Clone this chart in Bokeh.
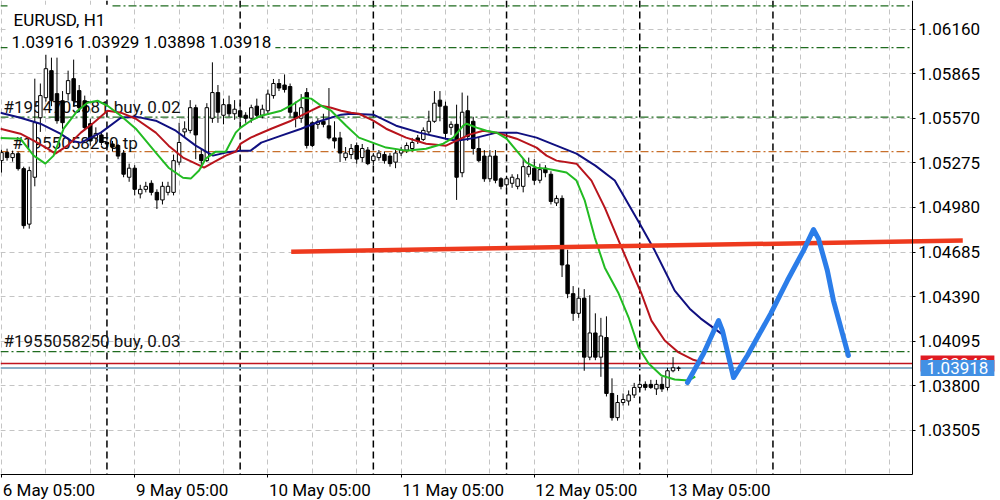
from bokeh.plotting import figure
from bokeh.models import (Range1d, FixedTicker, Span, Label, LinearAxis, Grid, BoxAnnotation,
                          NumeralTickFormatter, ColumnDataSource)
from bokeh.embed import file_html
from bokeh.resources import INLINE

# ---------------- data ----------------
symbol_title = "EURUSD, H1"
ohlc_text = "1.03916 1.03929 1.03898 1.03918"

time_tick_idx = [0, 24, 48, 72, 96, 120]
time_tick_labels = ["6 May 05:00", "9 May 05:00", "10 May 05:00",
                    "11 May 05:00", "12 May 05:00", "13 May 05:00"]
day_sep_idx = [19, 43, 67, 91, 115, 139]
grid_idx = [0, 8, 16, 24, 32, 40, 48, 56, 64, 72, 80, 88, 96, 104, 112,
            120, 128, 136, 144, 152, 160]
price_ticks = [1.03505, 1.03800, 1.04095, 1.04390, 1.04685, 1.04980,
               1.05275, 1.05570, 1.05865, 1.06160]

opens = [1.05290, 1.05343, 1.05310, 1.05336, 1.05237, 1.04870, 1.05180, 1.05574, 1.05706, 1.05885,
         1.05733, 1.05686, 1.05733, 1.05832, 1.05753, 1.05686, 1.05534, 1.05440, 1.05460, 1.05410,
         1.05400, 1.05390, 1.05340, 1.05180, 1.05240, 1.05070, 1.05100, 1.05140, 1.05080, 1.05030,
         1.05080, 1.05080, 1.05280, 1.05480, 1.05490, 1.05640, 1.05330, 1.05290, 1.05570, 1.05740,
         1.05590, 1.05660, 1.05600, 1.05620, 1.05590, 1.05570, 1.05650, 1.05590, 1.05620, 1.05720,
         1.05800, 1.05790, 1.05780, 1.05610, 1.05570, 1.05740, 1.05540, 1.05530, 1.05550, 1.05520,
         1.05440, 1.05440, 1.05310, 1.05330, 1.05390, 1.05310, 1.05360, 1.05290, 1.05310, 1.05330,
         1.05320, 1.05280, 1.05340, 1.05360, 1.05370, 1.05440, 1.05430, 1.05480, 1.05550, 1.05690,
         1.05650, 1.05510, 1.05530, 1.05210, 1.05620, 1.05550, 1.05370, 1.05320, 1.05170, 1.05320,
         1.05170, 1.05130, 1.05140, 1.05120, 1.05120, 1.05200, 1.05240, 1.05160, 1.05240, 1.05200,
         1.05010, 1.05040, 1.04600, 1.04410, 1.04280, 1.04380, 1.03990, 1.04150, 1.03990, 1.04120,
         1.03750, 1.03590, 1.03690, 1.03700, 1.03740, 1.03790, 1.03810, 1.03810, 1.03780, 1.03810,
         1.03790, 1.03900, 1.03916]
highs = [1.05362, 1.05369, 1.05356, 1.05349, 1.05250, 1.05250, 1.05832, 1.05800, 1.05997, 1.05971,
         1.05971, 1.05750, 1.05885, 1.05958, 1.05790, 1.05720, 1.05567, 1.05510, 1.05480, 1.05440,
         1.05420, 1.05400, 1.05360, 1.05270, 1.05260, 1.05130, 1.05150, 1.05160, 1.05100, 1.05150,
         1.05150, 1.05330, 1.05540, 1.05550, 1.05690, 1.05660, 1.05370, 1.05670, 1.05940, 1.05790,
         1.05700, 1.05720, 1.05690, 1.05670, 1.05610, 1.05660, 1.05700, 1.05660, 1.05760, 1.05830,
         1.05830, 1.05860, 1.05800, 1.05680, 1.05730, 1.05770, 1.05550, 1.05570, 1.05600, 1.05770,
         1.05550, 1.05480, 1.05380, 1.05400, 1.05410, 1.05400, 1.05380, 1.05340, 1.05360, 1.05350,
         1.05340, 1.05360, 1.05380, 1.05410, 1.05440, 1.05460, 1.05510, 1.05620, 1.05750, 1.05750,
         1.05680, 1.05550, 1.05660, 1.05740, 1.05720, 1.05580, 1.05440, 1.05360, 1.05360, 1.05360,
         1.05180, 1.05190, 1.05200, 1.05200, 1.05300, 1.05310, 1.05300, 1.05270, 1.05260, 1.05220,
         1.05060, 1.05060, 1.04700, 1.04460, 1.04450, 1.04440, 1.04400, 1.04280, 1.04250, 1.04260,
         1.03850, 1.03740, 1.03750, 1.03770, 1.03820, 1.03830, 1.03830, 1.03840, 1.03840, 1.03860,
         1.03920, 1.03990, 1.03929]
lows = [1.05211, 1.05290, 1.05283, 1.05224, 1.04840, 1.04840, 1.05120, 1.05480, 1.05680, 1.05650,
        1.05534, 1.05500, 1.05686, 1.05650, 1.05610, 1.05490, 1.05389, 1.05400, 1.05390, 1.05370,
        1.05350, 1.05300, 1.05180, 1.05150, 1.05060, 1.05040, 1.05080, 1.05060, 1.04970, 1.05000,
        1.05060, 1.05060, 1.05260, 1.05440, 1.05470, 1.05300, 1.05240, 1.05280, 1.05540, 1.05540,
        1.05530, 1.05580, 1.05560, 1.05550, 1.05540, 1.05540, 1.05570, 1.05570, 1.05600, 1.05700,
        1.05750, 1.05740, 1.05580, 1.05510, 1.05540, 1.05370, 1.05380, 1.05500, 1.05510, 1.05430,
        1.05370, 1.05280, 1.05290, 1.05300, 1.05270, 1.05280, 1.05260, 1.05260, 1.05290, 1.05270,
        1.05250, 1.05240, 1.05320, 1.05340, 1.05350, 1.05400, 1.05420, 1.05460, 1.05540, 1.05550,
        1.05430, 1.05460, 1.05030, 1.05180, 1.05420, 1.05330, 1.05280, 1.05150, 1.05150, 1.05140,
        1.05100, 1.05110, 1.05110, 1.05100, 1.05080, 1.05180, 1.05130, 1.05140, 1.05180, 1.05000,
        1.04990, 1.04520, 1.04380, 1.04230, 1.04250, 1.03900, 1.03970, 1.03970, 1.03860, 1.03730,
        1.03570, 1.03570, 1.03670, 1.03670, 1.03720, 1.03770, 1.03770, 1.03780, 1.03740, 1.03760,
        1.03770, 1.03890, 1.03898]
closes = [1.05343, 1.05310, 1.05336, 1.05237, 1.04860, 1.05224, 1.05541, 1.05720, 1.05898, 1.05686,
          1.05554, 1.05541, 1.05819, 1.05686, 1.05640, 1.05508, 1.05420, 1.05470, 1.05410, 1.05400,
          1.05380, 1.05320, 1.05200, 1.05240, 1.05100, 1.05100, 1.05120, 1.05080, 1.05030, 1.05120,
          1.05120, 1.05290, 1.05410, 1.05500, 1.05640, 1.05460, 1.05290, 1.05640, 1.05740, 1.05610,
          1.05660, 1.05600, 1.05630, 1.05580, 1.05570, 1.05640, 1.05590, 1.05630, 1.05730, 1.05800,
          1.05770, 1.05760, 1.05610, 1.05570, 1.05640, 1.05390, 1.05390, 1.05550, 1.05530, 1.05440,
          1.05420, 1.05340, 1.05340, 1.05370, 1.05300, 1.05370, 1.05270, 1.05320, 1.05340, 1.05290,
          1.05270, 1.05340, 1.05360, 1.05390, 1.05410, 1.05420, 1.05490, 1.05550, 1.05670, 1.05650,
          1.05470, 1.05530, 1.05180, 1.05610, 1.05450, 1.05370, 1.05290, 1.05170, 1.05320, 1.05160,
          1.05120, 1.05170, 1.05180, 1.05170, 1.05250, 1.05250, 1.05160, 1.05230, 1.05210, 1.05020,
          1.05040, 1.04600, 1.04410, 1.04280, 1.04380, 1.03990, 1.04150, 1.03990, 1.04130, 1.03750,
          1.03590, 1.03690, 1.03710, 1.03740, 1.03790, 1.03810, 1.03790, 1.03790, 1.03810, 1.03780,
          1.03900, 1.03920, 1.03918]

# Alligator lines (at bar positions)
lips_idx = [-0.2, 3.4, 5.8, 7.9, 9.4, 11.2, 13.7, 15.5, 17.3, 19.1, 21.5, 24.2, 27.8, 30.1, 32.7,
            34.1, 35.6, 36.8, 38.6, 40.4, 42.2, 43.1, 44.9, 46.8, 50.4, 52.7, 54.3, 55.8, 57.6,
            59.4, 62.1, 64.4, 69.3, 72.9, 76.5, 79.6, 81.4, 83.2, 83.8, 85.6, 87.4, 89.2, 91.0,
            92.8, 94.6, 96.4, 98.2, 100.0, 101.8, 103.6, 105.1, 106.9, 108.7, 111.2, 113.0, 114.8,
            116.6, 118.9, 121.3, 123.8, 125.0]
lips_val = [1.05440, 1.05435, 1.05323, 1.05270, 1.05323, 1.05501, 1.05620, 1.05673, 1.05686,
            1.05653, 1.05587, 1.05501, 1.05343, 1.05243, 1.05177, 1.05171, 1.05224, 1.05303,
            1.05349, 1.05349, 1.05475, 1.05508, 1.05554, 1.05587, 1.05620, 1.05666, 1.05706,
            1.05700, 1.05653, 1.05620, 1.05521, 1.05442, 1.05376, 1.05356, 1.05369, 1.05402,
            1.05442, 1.05521, 1.05534, 1.05508, 1.05488, 1.05475, 1.05435, 1.05356, 1.05277,
            1.05243, 1.05237, 1.05224, 1.05211, 1.05158, 1.05025, 1.04781, 1.04582, 1.04411,
            1.04252, 1.04054, 1.03948, 1.03869, 1.03842, 1.03836, 1.03862]
teeth_idx = [-0.2, 3.4, 5.8, 8.3, 9.7, 11.9, 14.3, 16.6, 19.1, 21.5, 24.2, 27.8, 30.1, 32.7, 35.0,
             36.5, 38.1, 40.4, 42.2, 43.1, 44.9, 48.6, 52.2, 55.8, 57.6, 59.4, 61.2, 63.0, 64.4,
             67.0, 69.3, 72.9, 76.5, 80.1, 82.0, 84.3, 86.8, 89.2, 92.8, 96.4, 98.2, 100.0, 103.6,
             106.3, 108.7, 111.2, 113.5, 115.3, 117.1, 119.5, 122.0, 124.5, 126.7]
teeth_val = [1.05501, 1.05468, 1.05422, 1.05369, 1.05336, 1.05389, 1.05475, 1.05541, 1.05620,
             1.05607, 1.05567, 1.05475, 1.05389, 1.05310, 1.05270, 1.05243, 1.05277, 1.05323,
             1.05349, 1.05402, 1.05442, 1.05501, 1.05554, 1.05620, 1.05653, 1.05640, 1.05620,
             1.05607, 1.05600, 1.05554, 1.05501, 1.05442, 1.05402, 1.05389, 1.05422, 1.05462,
             1.05488, 1.05475, 1.05435, 1.05376, 1.05323, 1.05290, 1.05270, 1.05158, 1.04979,
             1.04761, 1.04563, 1.04411, 1.04232, 1.04100, 1.04021, 1.03975, 1.03950]
jaw_idx = [-0.2, 3.4, 7.0, 10.6, 12.5, 14.3, 17.9, 21.5, 24.2, 27.8, 31.4, 35.0, 38.1, 40.4, 43.1,
           44.9, 46.8, 50.4, 54.0, 57.6, 61.2, 63.0, 67.0, 71.1, 75.3, 80.1, 82.0, 85.6, 89.2,
           92.8, 96.4, 100.0, 103.6, 107.0, 110.5, 115.0, 117.7, 121.3, 124.0, 126.0, 129.7]
jaw_val = [1.05607, 1.05574, 1.05534, 1.05468, 1.05422, 1.05409, 1.05475, 1.05574, 1.05581,
           1.05554, 1.05488, 1.05389, 1.05323, 1.05343, 1.05356, 1.05356, 1.05409, 1.05455,
           1.05501, 1.05554, 1.05594, 1.05600, 1.05594, 1.05521, 1.05475, 1.05435, 1.05422,
           1.05442, 1.05475, 1.05475, 1.05442, 1.05389, 1.05336, 1.05257, 1.05158, 1.04873,
           1.04695, 1.04430, 1.04311, 1.04245, 1.04146]

# hand-drawn annotations
hand_idx = [123.6, 126.5, 129.2, 129.9, 131.9, 134.4, 138.6, 141.6, 144.5, 146.3, 147.2, 148.8,
            149.9, 152.6]
hand_val = [1.03822, 1.04014, 1.04232, 1.04166, 1.03855, 1.04001, 1.04278, 1.04497, 1.04695,
            1.04834, 1.04774, 1.04563, 1.04364, 1.04001]
trend_idx = [52.2, 173.2]
trend_val = [1.04688, 1.04761]

# order lines
order_levels = [1.06314, 1.06037, 1.05577, 1.05349, 1.04027]
order_kinds = ["sl", "sl", "buy", "tp", "buy"]
order_texts = ["#1954705581 buy, 0.02", "#1955058250 tp", "#1955058250 buy, 0.03"]
order_text_idx = [0.36, 1.98, 0.36]
order_text_val = [1.05647, 1.05405, 1.04100]

bid_price = 1.03918
ask_price = 1.03948

# ---------------- layout constants ----------------
FONT = "Roboto"
BAR_PX = 5.55                 # pixels per bar
X_END = 164.1                 # right edge of the chart area (bars)
Y_BOTTOM = 1.03214            # bottom edge of the chart area (price)
Y_TOP = 1.06349
label_px = [93, 93, 102, 102, 102, 102]   # approximate rendered widths of time labels

p = figure(width=1000, height=500, output_backend="svg", toolbar_location=None,
           x_range=Range1d(-0.18, 180.0), y_range=Range1d(1.03042, Y_TOP),
           x_axis_location=None, y_axis_location=None,
           min_border=0, min_border_left=0, min_border_right=0,
           min_border_top=0, min_border_bottom=0,
           background_fill_color="white", border_fill_color="white",
           outline_line_color=None)
# drop default grids, add our own
p.center = [r for r in p.center if not isinstance(r, Grid)]
p.add_layout(Grid(dimension=0, ticker=FixedTicker(ticks=grid_idx), grid_line_color="#c4c4c4",
                  grid_line_dash="5 4", grid_line_width=1))
p.add_layout(Grid(dimension=1, ticker=FixedTicker(ticks=price_ticks), grid_line_color="#c4c4c4",
                  grid_line_dash="5 4", grid_line_width=1))

# day separators
for s in day_sep_idx:
    p.add_layout(Span(location=s, dimension="height", line_color="black",
                      line_dash="7 4", line_width=1.5, level="underlay"))

# order lines
kind_color = {"sl": "#1f6b1f", "buy": "#1f6b1f", "tp": "#c8702c"}
for lvl, k in zip(order_levels, order_kinds):
    p.add_layout(Span(location=lvl, dimension="width", line_color=kind_color[k],
                      line_dash="8 3 2 3", line_width=1.2, level="underlay"))
for t, xi, yv in zip(order_texts, order_text_idx, order_text_val):
    p.add_layout(Label(x=xi, y=yv, text=t, text_font=FONT, text_font_size="17px",
                       text_color="#111111", text_baseline="middle", text_align="left",
                       level="underlay"))

# bid / ask lines
p.add_layout(Span(location=ask_price, dimension="width", line_color="#c0141e",
                  line_width=1.5, level="underlay"))
p.add_layout(Span(location=bid_price, dimension="width", line_color="#8cb0c8",
                  line_width=2, level="underlay"))

# blank the area outside the chart (right price scale and bottom time scale)
p.add_layout(BoxAnnotation(left=X_END, fill_color="white", fill_alpha=1.0,
                           line_color=None, level="underlay"))
p.add_layout(BoxAnnotation(top=Y_BOTTOM, fill_color="white", fill_alpha=1.0,
                           line_color=None, level="underlay"))

# axes placed at the chart edges
yax = LinearAxis(fixed_location=X_END, bounds=(Y_BOTTOM, Y_TOP),
                 ticker=FixedTicker(ticks=price_ticks),
                 formatter=NumeralTickFormatter(format="0.00000"))
xax = LinearAxis(fixed_location=Y_BOTTOM, bounds=(-0.18, X_END),
                 ticker=FixedTicker(ticks=time_tick_idx))
label_pos = [round(t + (1 + w / 2) / BAR_PX, 2) for t, w in zip(time_tick_idx, label_px)]
xlab = LinearAxis(fixed_location=Y_BOTTOM, bounds=(-0.18, X_END + 20),
                  ticker=FixedTicker(ticks=label_pos),
                  major_label_overrides={k: v for k, v in zip(label_pos, time_tick_labels)})
for ax in (xax, yax, xlab):
    ax.axis_line_color = "black"
    ax.axis_line_width = 1
    ax.major_tick_line_color = "black"
    ax.major_tick_in = 0
    ax.major_tick_out = 3
    ax.minor_tick_line_color = None
    ax.major_label_text_font = FONT
    ax.major_label_text_font_size = "17px"
    ax.major_label_text_color = "black"
    ax.major_label_standoff = 3
xax.major_label_text_color = None
xlab.axis_line_color = None
xlab.major_tick_line_color = None
p.add_layout(yax, "right")
p.add_layout(xax, "below")
p.add_layout(xlab, "below")

# candles
idx = list(range(len(opens)))
bull = [c >= o for o, c in zip(opens, closes)]
src = ColumnDataSource(dict(
    x=idx, h=highs, l=lows,
    top=[max(o, c) for o, c in zip(opens, closes)],
    bottom=[min(o, c) for o, c in zip(opens, closes)],
    fill=["white" if b else "black" for b in bull]))
p.segment(x0="x", y0="h", x1="x", y1="l", source=src, line_color="black", line_width=1)
p.vbar(x="x", width=0.62, top="top", bottom="bottom", fill_color="fill",
       line_color="black", line_width=1, source=src)

# alligator
p.line(jaw_idx, jaw_val, line_color="#101080", line_width=2)
p.line(teeth_idx, teeth_val, line_color="#b8141c", line_width=2)
p.line(lips_idx, lips_val, line_color="#22bb22", line_width=2)

# hand-drawn annotations
p.line(trend_idx, trend_val, line_color="#ee3a1e", line_width=4.5)
p.line(hand_idx, hand_val, line_color="#2b7de9", line_width=5,
       line_join="round", line_cap="round")


def mk_label(**kw):
    pad = kw.pop("pad")
    try:
        return Label(padding=pad, **kw)
    except Exception:
        return Label(**kw)


# header texts
p.add_layout(mk_label(x=1.08, y=1.06222, text=symbol_title, text_font=FONT,
                      text_font_size="17px", text_color="black", text_baseline="middle",
                      background_fill_color="white", level="overlay", pad=(6, 5)))
p.add_layout(mk_label(x=1.08, y=1.06076, text=ohlc_text, text_font=FONT,
                      text_font_size="17px", text_color="black", text_baseline="middle",
                      background_fill_color="white", level="overlay", pad=(4, 3)))

# price tags on the price scale
p.add_layout(mk_label(x=165.6, y=ask_price, text="1.03948", text_font=FONT,
                      text_font_size="17px", text_color="white", text_baseline="middle",
                      background_fill_color="#e01b22", level="overlay", pad=(6, 2)))
p.add_layout(mk_label(x=165.6, y=bid_price, text="1.03918", text_font=FONT,
                      text_font_size="17px", text_color="white", text_baseline="middle",
                      background_fill_color="#4290e4", level="overlay", pad=(6, 2)))

open("out.html", "w").write(file_html(p, INLINE))
